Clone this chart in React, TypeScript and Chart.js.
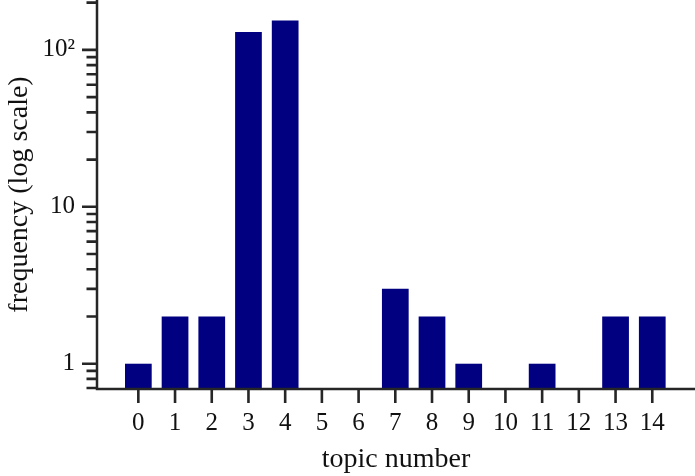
import { useEffect, useRef } from "react";
import { Chart, registerables } from "chart.js";

Chart.register(...registerables);

const topics = [0, 1, 2, 3, 4, 5, 6, 7, 8, 9, 10, 11, 12, 13, 14];
const frequency = [1, 2, 2, 130, 154, 0, 0, 3, 2, 1, 0, 1, 0, 2, 2];

const yMajorTicks = [1, 10, 100];
const yMinorTicks = [0.7, 0.8, 0.9, 2, 3, 4, 5, 6, 7, 8, 9, 20, 30, 40, 50, 60, 70, 80, 90, 200];
const yTickLabels: Record<string, string> = { "1": "1", "10": "10", "100": "10²" };

const xTitle = "topic number";
const yTitle = "frequency (log scale)";

const BAR_COLOR = "#000080";
const AXIS_COLOR = "#262626";
const TEXT_COLOR = "#111111";
const FONT = "'Liberation Serif', 'Times New Roman', serif";

const axesPlugin = {
  id: "axesPlugin",
  afterDraw(chart: any) {
    const { ctx, chartArea, scales } = chart;
    const xs = scales.x;
    const ys = scales.y;
    ctx.save();
    ctx.strokeStyle = AXIS_COLOR;
    ctx.lineCap = "butt";
    ctx.lineWidth = 2.5;
    ctx.beginPath();
    ctx.moveTo(chartArea.left, chartArea.top);
    ctx.lineTo(chartArea.left, chartArea.bottom);
    ctx.lineTo(chartArea.right, chartArea.bottom);
    ctx.stroke();

    ctx.lineWidth = 2.6;
    ctx.beginPath();
    for (const v of yMajorTicks) {
      const p = ys.getPixelForValue(v);
      ctx.moveTo(chartArea.left, p);
      ctx.lineTo(chartArea.left - 15, p);
    }
    for (const v of yMinorTicks) {
      const p = ys.getPixelForValue(v);
      ctx.moveTo(chartArea.left, p);
      ctx.lineTo(chartArea.left - 10.5, p);
    }
    for (const t of topics) {
      const p = xs.getPixelForValue(t);
      ctx.moveTo(p, chartArea.bottom);
      ctx.lineTo(p, chartArea.bottom + 14);
    }
    ctx.stroke();
    ctx.restore();
  },
};

export default function App() {
  const canvasRef = useRef<HTMLCanvasElement | null>(null);

  useEffect(() => {
    const canvas = canvasRef.current;
    if (!canvas) return;
    const points = topics.map((t, i) => ({ x: t, y: frequency[i] > 0 ? frequency[i] : null }));
    const chart = new Chart(canvas, {
      type: "bar",
      data: {
        datasets: [
          {
            data: points as any,
            backgroundColor: BAR_COLOR,
            borderWidth: 0,
            categoryPercentage: 0.8,
            barPercentage: 0.91,
          },
        ],
      },
      options: {
        animation: false,
        responsive: false,
        events: [],
        layout: { padding: 0 },
        plugins: {
          legend: { display: false },
          tooltip: { enabled: false },
        },
        scales: {
          x: {
            type: "linear",
            min: -1.126,
            max: 15.164,
            offset: false,
            grid: { display: false, drawTicks: false, offset: false },
            border: { display: false },
            afterBuildTicks: (scale: any) => {
              scale.ticks = topics.map((v) => ({ value: v }));
            },
            afterFit: (scale: any) => {
              scale.height = 87;
              scale.paddingLeft = 0;
              scale.paddingRight = 0;
              scale.paddingTop = 0;
              scale.paddingBottom = 0;
            },
            ticks: {
              autoSkip: false,
              maxRotation: 0,
              padding: 19.5,
              color: TEXT_COLOR,
              font: { family: FONT, size: 25 },
              callback: (v: any) => String(v),
            },
            title: {
              display: true,
              text: xTitle,
              color: TEXT_COLOR,
              font: { family: FONT, size: 28 },
              padding: { top: 0, bottom: 0 },
            },
          },
          y: {
            type: "logarithmic",
            min: 0.69,
            max: 208,
            grid: { display: false, drawTicks: false },
            border: { display: false },
            afterBuildTicks: (scale: any) => {
              const all = [...yMinorTicks, ...yMajorTicks].sort((a, b) => a - b);
              scale.ticks = all.map((v) => ({ value: v, major: yMajorTicks.includes(v) }));
            },
            afterFit: (scale: any) => {
              scale.width = 97;
              scale.paddingLeft = 0;
              scale.paddingRight = 0;
              scale.paddingTop = 0;
              scale.paddingBottom = 0;
            },
            ticks: {
              autoSkip: false,
              padding: 22,
              color: TEXT_COLOR,
              font: { family: FONT, size: 25 },
              callback: (v: any) => yTickLabels[String(v)] ?? "",
            },
            title: {
              display: true,
              text: yTitle,
              color: TEXT_COLOR,
              font: { family: FONT, size: 28 },
              padding: { top: 3, bottom: 0 },
            },
          },
        },
      },
      plugins: [axesPlugin],
    });
    return () => chart.destroy();
  }, []);

  return (
    <div style={{ position: "fixed", left: 0, top: 0, width: 695, height: 476, background: "#ffffff" }}>
      <canvas ref={canvasRef} width={695} height={476} style={{ display: "block" }} />
    </div>
  );
}
